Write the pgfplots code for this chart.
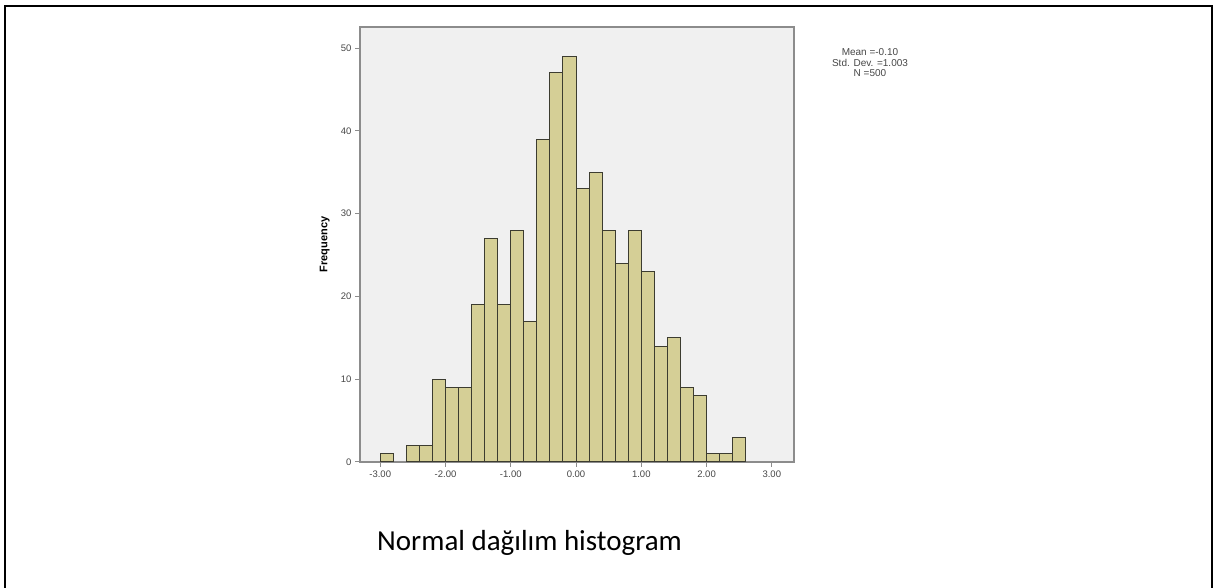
\documentclass[border=0pt]{standalone}
\usepackage{fontspec}
\setmainfont{Liberation Sans}
\newfontfamily\calfont{Carlito}
\usepackage{pgfplots}
\pgfplotsset{compat=1.18}
\definecolor{barfill}{RGB}{213,207,150}
\definecolor{baredge}{RGB}{60,60,48}
\definecolor{plotbg}{RGB}{240,240,240}
\definecolor{framegray}{RGB}{140,140,140}
\definecolor{ticktext}{RGB}{70,70,70}
\begin{document}
\begin{tikzpicture}[x=1pt,y=1pt]
\path[use as bounding box] (0,0) rectangle (1218,588);
\draw[line width=2.5pt] (5,-10) -- (5,582) -- (1212,582) -- (1212,-10);
\begin{axis}[
  at={(360pt,126pt)}, anchor=south west,
  scale only axis, width=434pt, height=435pt,
  xmin=-3.31, xmax=3.34, ymin=0, ymax=52.55,
  axis background/.style={fill=plotbg},
  axis line style={draw=framegray, line width=1.6pt},
  xtick={-3,-2,-1,0,1,2,3}, ytick={0,10,20,30,40,50},
  tick align=outside, major tick length=5pt,
  xtick pos=bottom, ytick pos=left,
  tick style={draw=framegray, line width=1pt},
  x tick label style={/pgf/number format/fixed, /pgf/number format/fixed zerofill, /pgf/number format/precision=2},
  /pgf/number format/assume math mode=true,
  tick label style={font=\fontsize{9.5}{10}\selectfont, text=ticktext},
  ylabel={Frequency},
  ylabel style={at={(axis description cs:-0.081,0.5)}, anchor=center, font=\bfseries\fontsize{11}{12}\selectfont},
  clip=false,
]
\addplot[ybar interval, fill=barfill, draw=baredge, line width=1pt] coordinates {
(-3.0,1) (-2.8,1)
};
\addplot[ybar interval, fill=barfill, draw=baredge, line width=1pt] coordinates {
(-2.6,2) (-2.4,2) (-2.2,10) (-2.0,9) (-1.8,9) (-1.6,19) (-1.4,27) (-1.2,19)
(-1.0,28) (-0.8,17) (-0.6,39) (-0.4,47) (-0.2,49) (0.0,33) (0.2,35) (0.4,28)
(0.6,24) (0.8,28) (1.0,23) (1.2,14) (1.4,15) (1.6,9) (1.8,8) (2.0,1)
(2.2,1) (2.4,3) (2.6,3)
};
\end{axis}
\node[align=center, font=\fontsize{10}{10.5}\selectfont, text=ticktext] at (870,525) {Mean =-0.10\\Std. Dev. =1.003\\N =500};
\node[anchor=west, inner sep=0pt, font=\calfont\fontsize{29}{32}\selectfont] at (377,45) {Normal dağılım histogram};
\end{tikzpicture}
\end{document}
